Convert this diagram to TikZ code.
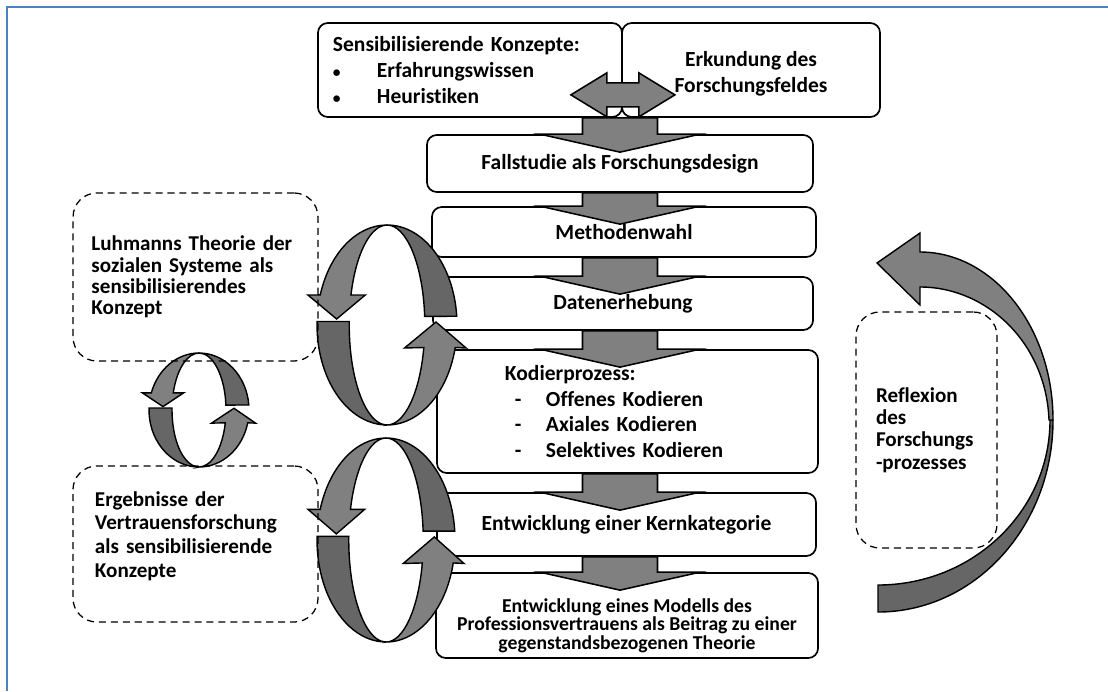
\documentclass[tikz,border=0pt]{standalone}
\usepackage{fontspec}
\setmainfont{Carlito}[Ligatures=NoCommon]
\usepackage{tikz}
\usetikzlibrary{calc,positioning}

\definecolor{rahmenblau}{RGB}{79,129,189}
\definecolor{pfeilhell}{RGB}{128,128,128}
\definecolor{pfeildunkel}{RGB}{102,102,102}

\begin{document}
\begin{tikzpicture}[x=0.025cm, y=-0.025cm,
    flow_node/.style={draw, line width=1.2pt, rounded corners=7pt, fill=white, align=center,
        font=\bfseries\fontsize{15.3}{18.4}\selectfont},
    dash_node/.style={draw, line width=0.9pt, dash pattern=on 5pt off 3.5pt, rounded corners=17pt,
        align=left, font=\bfseries\fontsize{15}{16}\selectfont},
    plain_text/.style={align=left, inner sep=0pt, font=\bfseries\fontsize{15}{16}\selectfont},
    block_arrow/.style={draw, line width=1.1pt, fill=pfeilhell},
    ring_hell/.style={draw, line width=1pt, fill=pfeilhell},
    ring_dunkel/.style={draw, line width=1pt, fill=pfeildunkel},
    ring/.pic={
        \draw[ring_dunkel] (0,1) arc[start angle=90, end angle=5, x radius=1, y radius=1]
            -- (0.538,0.087) arc[start angle=5, end angle=90, x radius=0.54, y radius=1] -- cycle;
        \draw[ring_dunkel] (-0.999,0.035) arc[start angle=178, end angle=270, x radius=1, y radius=1]
            arc[start angle=270, end angle=178, x radius=0.54, y radius=1] -- cycle;
        \draw[ring_hell] (0,1) arc[start angle=90, end angle=162.5, x radius=1, y radius=1]
            -- (-1.13,0.3) -- (-0.72,0.06) -- (-0.31,0.3) -- (-0.515,0.3)
            arc[start angle=162.5, end angle=90, x radius=0.54, y radius=1] -- cycle;
        \draw[ring_hell] (0,-1) arc[start angle=270, end angle=347, x radius=1, y radius=1]
            -- (1.13,-0.23) -- (0.70,0.03) -- (0.25,-0.23) -- (0.526,-0.225)
            arc[start angle=347, end angle=270, x radius=0.54, y radius=1] -- cycle;
    }
]
\useasboundingbox (0,0) rectangle (1108,691);

% Rahmen (Frame)
\draw[rahmenblau, line width=1.8pt] (7,691) -- (7,7) -- (1108,7);

% Knoten des Ablaufs (Flow nodes)
\node[flow_node, align=left, text width=6.85cm, inner xsep=0.375cm, minimum height=2.35cm] (sens) at (470,70)
    {Sensibilisierende Konzepte:\\
     \makebox[1.1cm][l]{\fontsize{11}{11}\selectfont\textbullet}Erfahrungswissen\\
     \makebox[1.1cm][l]{\fontsize{11}{11}\selectfont\textbullet}Heuristiken};
\node[flow_node, minimum width=6.45cm, minimum height=2.35cm] (erk) at (751,70) {};
\node[flow_node, draw=none, fill=none, inner sep=0pt] at ($(erk)+(0,4)$) {Erkundung des\\Forschungsfeldes};
\node[flow_node, minimum width=9.65cm, minimum height=1.425cm] (fall) at (620,163.5)
    {Fallstudie als Forschungsdesign};
\node[flow_node, minimum width=9.6cm, minimum height=1.25cm] (wahl) at (624,232) {Methodenwahl};
\node[flow_node, minimum width=9.5cm, minimum height=1.325cm] (daten) at (623,303.5) {Datenerhebung};
\node[flow_node, align=left, text width=6.125cm, inner xsep=1.7cm, minimum height=3.075cm] (kodier) at (627.5,411.5)
    {Kodierprozess:\\
     \hspace*{0.25cm}\makebox[0.775cm][l]{-}Offenes Kodieren\\
     \hspace*{0.25cm}\makebox[0.775cm][l]{-}Axiales Kodieren\\
     \hspace*{0.25cm}\makebox[0.775cm][l]{-}Selektives Kodieren};
\node[flow_node, minimum width=9.475cm, minimum height=1.575cm] (kern) at (626.5,524.5)
    {Entwicklung einer Kernkategorie};
\node[flow_node, minimum width=9.55cm, minimum height=2.125cm] (modell) at (627,615.5) {};

% Blockpfeile (Block arrows)
\coordinate (col) at (620,0);
\foreach \von/\nach in {sens/fall, fall/wahl, wahl/daten, daten/kodier, kodier/kern, kern/modell}
    \draw[block_arrow] ($(col |- \von.south)+(-37.5,0)$) -- ($(col |- \von.south)+(37.5,0)$)
        -- ($(col |- \nach.north)+(37.5,0)$) -- ($(col |- \nach.north)+(80,0)$)
        -- ($(col |- \nach.north)+(0,18)$) -- ($(col |- \nach.north)+(-80,0)$)
        -- ($(col |- \nach.north)+(-37.5,0)$) -- cycle;

\coordinate (tausch) at ($(sens.south east)+(0,-23)$);
\draw[block_arrow, shift={(tausch)}] (-52,0) -- (-16,-22) -- (-16,-12) -- (16,-12) -- (16,-22)
    -- (52,0) -- (16,22) -- (16,12) -- (-16,12) -- (-16,22) -- cycle;

\node[flow_node, draw=none, fill=none, inner sep=0pt, font=\bfseries\fontsize{14}{10.6}\selectfont]
    at ($(modell)+(0,10)$)
    {Entwicklung eines Modells des\\Professionsvertrauens als Beitrag zu einer\\gegenstandsbezogenen Theorie};

% Kreispfeile (Circular arrows)
\pic[xscale=70, yscale=-100] at (387,325) {ring};
\pic[xscale=69, yscale=-102] at (386,540) {ring};
\pic[xscale=50, yscale=-57] at (199,410) {ring};

% Grosser Bogenpfeil (Big curved arrow)
\draw[ring_dunkel] (1053,420) .. controls (1053,526) and (975,612) .. (878,612) -- (878,585)
    .. controls (973,585) and (1050,511) .. (1050,420) -- cycle;
\draw[ring_hell] (1053,420) .. controls (1053,327) and (993,252) .. (920,252) -- (920,233)
    -- (877,263) -- (920,305) -- (920,287) .. controls (986,287) and (1046,342) .. (1049,420) -- cycle;

% Gestrichelte Kaesten (Dashed boxes)
\node[dash_node, text width=5.2cm, inner xsep=0.46cm, minimum height=4.2cm, font=\bfseries\fontsize{15}{15.2}\selectfont] (luhmann) at (195.5,277)
    {Luhmanns Theorie der\\sozialen Systeme als\\sensibilisierendes\\Konzept};
\node[dash_node, minimum width=6.125cm, minimum height=3.9cm] (ergeb) at (195.5,544) {};
\node[plain_text, text width=5.025cm, font=\bfseries\fontsize{15}{16.8}\selectfont] at ($(ergeb)+(0,-8)$)
    {Ergebnisse der\\Vertrauensforschung\\als sensibilisierende\\Konzepte};
\node[dash_node, text width=2.525cm, inner xsep=0.5cm, minimum height=5.9cm] (reflex) at (926.5,430)
    {Reflexion\\des\\Forschungs\\-prozesses};

\end{tikzpicture}
\end{document}
